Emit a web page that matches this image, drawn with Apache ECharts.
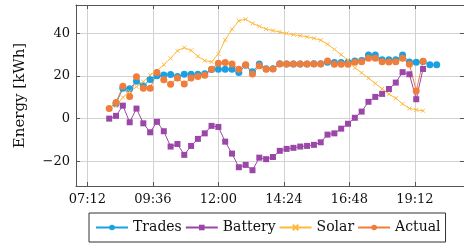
<!DOCTYPE html>
<html><head><meta charset="utf-8">
<script src="https://cdn.jsdelivr.net/npm/echarts@6/dist/echarts.min.js"></script>
<style>html,body{margin:0;padding:0;background:#fff}#c{width:464px;height:244px}</style>
</head><body><div id="c"></div>
<script>
const times = ['08:00','08:15','08:30','08:45','09:00','09:15','09:30','09:45','10:00','10:15','10:30','10:45',
  '11:00','11:15','11:30','11:45','12:00','12:15','12:30','12:45','13:00','13:15','13:30','13:45',
  '14:00','14:15','14:30','14:45','15:00','15:15','15:30','15:45','16:00','16:15','16:30','16:45',
  '17:00','17:15','17:30','17:45','18:00','18:15','18:30','18:45','19:00','19:15','19:30','19:45','20:00'];
const trades = [null,7.0,14.2,14.0,17.5,15.4,18.4,20.1,20.5,20.7,19.8,20.8,
  20.8,20.8,21.0,23.0,23.2,23.2,23.2,21.6,25.0,22.0,25.6,23.4,
  23.4,25.8,25.6,25.6,25.6,25.6,25.8,25.8,26.4,26.3,26.3,26.5,
  27.0,27.3,29.9,29.9,27.6,27.6,27.6,29.9,26.6,26.5,26.8,25.3,25.3];
const battery = [0.0,1.3,6.1,-1.7,4.7,-2.2,-6.4,-1.5,-5.9,-13.1,-11.9,-17.0,
  -12.8,-9.5,-6.9,-3.4,-3.9,-10.8,-16.4,-22.8,-21.7,-24.2,-18.3,-19.0,
  -18.0,-15.1,-14.2,-13.7,-13.1,-12.8,-12.3,-11.1,-7.5,-6.9,-4.7,-2.4,
  0.4,3.3,7.9,10.2,11.6,13.9,16.9,21.8,20.8,9.1,23.3,null,null];
const solar = [null,6.0,10.0,12.7,15.0,17.3,20.5,22.4,25.3,28.3,31.8,33.3,
  32.0,29.2,27.2,26.6,30.4,36.9,41.9,45.9,46.6,44.7,43.3,42.0,
  41.3,40.6,40.0,39.4,38.9,38.4,37.7,36.8,34.9,32.5,30.0,27.5,
  23.8,21.5,19.0,16.5,14.0,11.5,9.6,6.9,4.8,4.1,3.7,null,null];
const actual = [4.7,7.6,15.2,10.4,19.6,14.2,14.2,21.6,18.2,16.1,19.1,16.2,
  19.1,19.8,20.3,23.2,26.0,26.3,25.6,23.2,25.3,20.9,24.8,23.2,
  23.3,25.6,25.6,25.6,25.6,25.6,25.6,25.6,27.0,25.5,25.5,25.5,
  26.5,26.7,28.3,28.3,26.7,26.6,26.7,28.3,25.5,13.0,26.9,null,null];
const xTickLabels = ['07:12','09:36','12:00','14:24','16:48','19:12'];
const yTicks = [-20,0,20,40];

function toMin(s){const p=s.split(':').map(Number);return p[0]*60+p[1];}
function fmt(v){const h=Math.floor(v/60),m=Math.round(v-h*60);return String(h).padStart(2,'0')+':'+String(m).padStart(2,'0');}
function pairs(arr){return times.map((t,i)=>[toMin(t),arr[i]]).filter(p=>p[1]!=null);}
const xTicks = xTickLabels.map(toMin);

const FONT = 'DejaVu Serif';
const FRAME = '#555';
const GRID = '#d2d2d2';
const C = {trades:'#1ba1e2', battery:'#9b47a8', solar:'#ffb93c', actual:'#f07d3a'};
const XMIN = 407, XMAX = 1260, YMIN = -31.6, YMAX = 53.3;

const chart = echarts.init(document.getElementById('c'), null, {renderer:'canvas'});
function xAx(pos, labels){
  return {type:'value', position:pos, min:XMIN, max:XMAX,
    axisLine:{show:true,onZero:false,lineStyle:{color:FRAME,width:1}},
    axisTick:{show:true,inside:true,length:4,customValues:xTicks,lineStyle:{color:FRAME}},
    axisLabel:{show:labels,customValues:xTicks,formatter:fmt,color:'#111',fontFamily:FONT,fontSize:13,margin:7},
    splitLine:{show:labels,lineStyle:{color:GRID,width:1}}};
}
function yAx(pos, labels){
  return {type:'value', position:pos, min:YMIN, max:YMAX,
    name: labels ? 'Energy [kWh]' : '', nameLocation:'middle', nameGap:48,
    nameTextStyle:{fontFamily:FONT,fontSize:15,color:'#111'},
    axisLine:{show:true,onZero:false,lineStyle:{color:FRAME,width:1}},
    axisTick:{show:true,inside:true,length:4,customValues:yTicks,lineStyle:{color:FRAME}},
    axisLabel:{show:labels,customValues:yTicks,formatter:v=>v<0?'\u2212'+Math.abs(v):String(v),color:'#111',fontFamily:FONT,fontSize:13,margin:6},
    splitLine:{show:labels,lineStyle:{color:GRID,width:1}}};
}
function ser(name, arr, color, symbol, size, extra){
  return Object.assign({name, type:'line', data:pairs(arr), xAxisIndex:0, yAxisIndex:0,
    symbol, symbolSize:size, showSymbol:true, showAllSymbol:true,
    lineStyle:{color,width:1}, itemStyle:{color,borderWidth:0},
    emphasis:{disabled:true}, animation:false}, extra||{});
}
chart.setOption({
  animation:false,
  grid:{left:76, right:0, top:5, bottom:58, containLabel:false},
  xAxis:[xAx('bottom',true), xAx('top',false)],
  yAxis:[yAx('left',true), yAx('right',false)],
  legend:{left:89, top:213, orient:'horizontal', itemWidth:32, itemHeight:7, itemGap:3,
    padding:[6,5,6,6], borderColor:'#333', borderWidth:1, borderRadius:0,
    textStyle:{fontFamily:FONT,fontSize:14,color:'#111',lineHeight:17},
    data:['Trades','Battery','Solar','Actual']},
  series:[
    ser('Trades', trades, C.trades, 'circle', 7),
    ser('Battery', battery, C.battery, 'rect', 6),
    ser('Solar', solar, C.solar, 'path://M0,0L10,10M10,0L0,10', 4, {itemStyle:{color:C.solar,borderColor:C.solar,borderWidth:1}}),
    ser('Actual', actual, C.actual, 'circle', 7)
  ]
});
</script></body></html>
